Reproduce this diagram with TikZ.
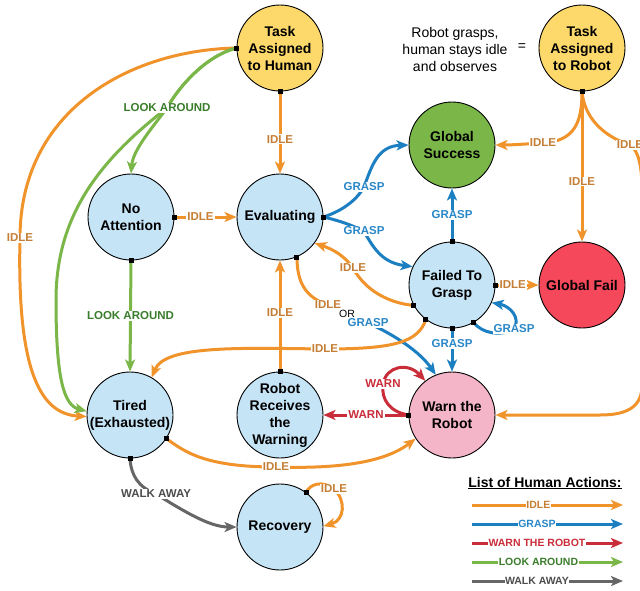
\documentclass[tikz,border=0pt]{standalone}
\usepackage{fontspec}
\setmainfont{Liberation Sans}
\usetikzlibrary{arrows.meta}
\definecolor{cOr}{HTML}{F0932B}
\definecolor{cOrT}{HTML}{C47E35}
\definecolor{cBl}{HTML}{1B7FC1}
\definecolor{cBlT}{HTML}{2A87C7}
\definecolor{cRd}{HTML}{C92D39}
\definecolor{cGr}{HTML}{7AB648}
\definecolor{cGrT}{HTML}{3A7D2C}
\definecolor{cGy}{HTML}{666666}
\definecolor{cGyT}{HTML}{4D4D4D}
\definecolor{cYel}{HTML}{FDD86A}
\definecolor{cLBl}{HTML}{C5E4F6}
\definecolor{cGrF}{HTML}{7AB648}
\definecolor{cRdF}{HTML}{F5485A}
\definecolor{cPnk}{HTML}{F4B5C8}
\begin{document}
\begin{tikzpicture}[x=1pt,y=-1pt,
  state/.style={circle, draw=black, line width=0.9pt, minimum size=86pt, inner sep=-8pt, align=center, font=\fontsize{14}{17}\selectfont\bfseries},
  port/.style={rectangle, fill=black, inner sep=0pt, minimum size=5pt},
  conn/.style={line width=3pt, -{Stealth[length=12pt,width=10pt,inset=3pt]}},
  eIdle/.style={conn, draw=cOr},
  eGrasp/.style={conn, draw=cBl},
  eWarn/.style={conn, draw=cRd},
  eLook/.style={conn, draw=cGr},
  eWalk/.style={conn, draw=cGy},
  lbl/.style={fill=white, inner sep=1pt, font=\fontsize{11.5}{12}\selectfont\bfseries},
  lIdle/.style={lbl, text=cOrT},
  lGrasp/.style={lbl, text=cBlT},
  lWarn/.style={lbl, text=cRd},
  lLook/.style={lbl, text=cGrT},
  lWalk/.style={lbl, text=cGyT},
  legl/.style={font=\fontsize{10.5}{12}\selectfont\bfseries, inner sep=0.5pt}
]
\useasboundingbox (0,0) rectangle (640,590);
\clip (0,0) rectangle (640,590);

% states
\node[state, fill=cYel] (th) at (280,48) {Task\\Assigned\\to Human};
\node[state, fill=cYel] (tr) at (582,48) {Task\\Assigned\\to Robot};
\node[state, fill=cLBl] (na) at (131,217) {No\\Attention};
\node[state, fill=cLBl] (ev) at (280,217) {Evaluating};
\node[state, fill=cGrF] (gs) at (452,145) {Global\\Success};
\node[state, fill=cLBl] (fg) at (452,285) {Failed To\\Grasp};
\node[state, fill=cRdF] (gf) at (582,285) {Global Fail};
\node[state, fill=cPnk] (wr) at (452,415) {Warn the\\Robot};
\node[state, fill=cLBl] (rr) at (280,415) {Robot\\Receives\\the\\Warning};
\node[state, fill=cLBl] (ti) at (130,415) {Tired\\(Exhausted)};
\node[state, fill=cLBl] (rc) at (280,527) {Recovery};

% description
\node[align=center, font=\fontsize{14}{17}\selectfont] (desc) at (455,49) {Robot grasps,\\human stays idle\\and observes};
\node[font=\fontsize{14}{17}\selectfont] (eq) at (522,47) {=};

% edges from Task Assigned to Human
\draw[eIdle] (th.west) .. controls (130,50) and (20,110) .. (20,238) node[lIdle]{IDLE}
  .. controls (17,365) and (38,414) .. (ti.182);
\draw[eLook] (th.west) .. controls (205,56) and (178,88) .. (167,108)
  .. controls (100,160) and (56,215) .. (56,300) .. controls (56,375) and (63,405) .. (ti.175);
\draw[eLook] (th.west) .. controls (205,56) and (178,88) .. (167,108) node[lLook]{LOOK AROUND}
  .. controls (152,128) and (133,150) .. (na.north);
\draw[eIdle] (th.south) -- node[lIdle,pos=0.58]{IDLE} (ev.north);

% No Attention
\draw[eIdle] (na.east) -- node[lIdle,pos=0.42]{IDLE} (ev.west);
\draw[eLook] (na.south) -- node[lLook]{LOOK AROUND} (ti.north);

% Evaluating
\draw[eGrasp] (ev.east) .. controls (345,210) and (358,198) .. (364,187) node[lGrasp]{GRASP}
  .. controls (372,165) and (378,146) .. (gs.west);
\draw[eGrasp] (ev.east) .. controls (345,222) and (355,227) .. (364,231) node[lGrasp]{GRASP}
  .. controls (375,252) and (385,263) .. (fg.155);
\coordinate (c10a) at (328,305);
\coordinate (c10b) at (368,323);
\draw[line width=3pt, draw=cOr] (ev.-67) .. controls (297,282) and (305,297) .. (c10a) node[lIdle]{IDLE};
\draw[eGrasp] (c10b) node[lGrasp]{GRASP} .. controls (395,335) and (420,352) .. (wr.112);
\node[font=\fontsize{10.5}{12}\selectfont, inner sep=0.5pt] (or) at (347,314) {OR};

% Failed To Grasp
\draw[eIdle] (fg.-152) .. controls (388,303) and (365,290) .. (353,268) node[lIdle]{IDLE}
  .. controls (344,255) and (332,249) .. (ev.-37);
\draw[eIdle] (fg.-127) .. controls (418,342) and (395,349) .. (325,349) node[lIdle]{IDLE}
  .. controls (240,348) and (165,345) .. (ti.60);
\draw[eGrasp] (fg.north) -- node[lGrasp]{GRASP} (gs.south);
\draw[eIdle] (fg.east) -- node[lIdle,pos=0.4]{IDLE} (gf.west);
\draw[eGrasp] (fg.south) -- node[lGrasp,pos=0.35]{GRASP} (wr.north);
\draw[eGrasp] (fg.-60) .. controls (482,333) and (500,337) .. (514,329) node[lGrasp]{GRASP}
  .. controls (521,318) and (510,306) .. (fg.-24);

% Task Assigned to Robot
\draw[eIdle] (tr.south) .. controls (582,122) and (575,141) .. (543,143) node[lIdle]{IDLE}
  .. controls (525,144) and (512,145) .. (gs.east);
\draw[eIdle] (tr.south) -- node[lIdle,pos=0.6]{IDLE} (gf.north);
\draw[eIdle] (tr.south) .. controls (584,115) and (600,135) .. (630,145) node[lIdle]{IDLE}
  .. controls (638,150) and (642,165) .. (642,190) -- (642,385)
  .. controls (642,405) and (630,415) .. (600,415) -- (wr.east);

% Warn the Robot
\draw[eWarn] (wr.west) -- node[lWarn]{WARN} (rr.east);
\draw[eWarn] (wr.west) .. controls (390,412) and (381,400) .. (383,384) node[lWarn]{WARN}
  .. controls (386,366) and (408,362) .. (wr.128);

% Robot Receives
\draw[eIdle] (rr.north) -- node[lIdle,pos=0.53]{IDLE} (ev.south);

% Tired
\draw[eIdle] (ti.-33) .. controls (185,452) and (205,467) .. (276,467) node[lIdle]{IDLE}
  .. controls (340,469) and (385,462) .. (wr.-147);
\draw[eWalk] (ti.south) .. controls (131,475) and (138,487) .. (156,494) node[lWalk]{WALK AWAY}
  .. controls (185,512) and (210,527) .. (rc.west);

% Recovery
\draw[eIdle] (rc.53) .. controls (310,484) and (322,480) .. (334,489) node[lIdle]{IDLE}
  .. controls (346,500) and (345,520) .. (rc.1);

% ports
\node[port] (pth1) at (th.west) {};
\node[port] (pth2) at (th.south) {};
\node[port] (pna1) at (na.east) {};
\node[port] (pna2) at (na.south) {};
\node[port] (pev1) at (ev.east) {};
\node[port] (pev2) at (ev.-67) {};
\node[port] (pfg1) at (fg.north) {};
\node[port] (pfg2) at (fg.east) {};
\node[port] (pfg3) at (fg.south) {};
\node[port] (pfg4) at (fg.-60) {};
\node[port] (pfg5) at (fg.-152) {};
\node[port] (pfg6) at (fg.-127) {};
\node[port] (ptr) at (tr.south) {};
\node[port] (pwr) at (wr.west) {};
\node[port] (prr) at (rr.north) {};
\node[port] (pti1) at (ti.-33) {};
\node[port] (pti2) at (ti.south) {};
\node[port] (prc) at (rc.53) {};

% legend
\node[font=\fontsize{14}{16}\selectfont\bfseries] (lt) at (545,483) {\underline{List of Human Actions:}};
\coordinate (la1) at (472,505); \coordinate (lb1) at (623,505);
\coordinate (la2) at (472,524); \coordinate (lb2) at (623,524);
\coordinate (la3) at (472,543); \coordinate (lb3) at (623,543);
\coordinate (la4) at (472,562); \coordinate (lb4) at (623,562);
\coordinate (la5) at (472,581); \coordinate (lb5) at (623,581);
\draw[eIdle] (la1) -- node[lIdle,legl,pos=0.44]{IDLE} (lb1);
\draw[eGrasp] (la2) -- node[lGrasp,legl,pos=0.43]{GRASP} (lb2);
\draw[eWarn] (la3) -- node[lWarn,legl,pos=0.43]{WARN THE ROBOT} (lb3);
\draw[eLook] (la4) -- node[lLook,legl,pos=0.44]{LOOK AROUND} (lb4);
\draw[eWalk] (la5) -- node[lWalk,legl,pos=0.43]{WALK AWAY} (lb5);
\end{tikzpicture}
\end{document}
